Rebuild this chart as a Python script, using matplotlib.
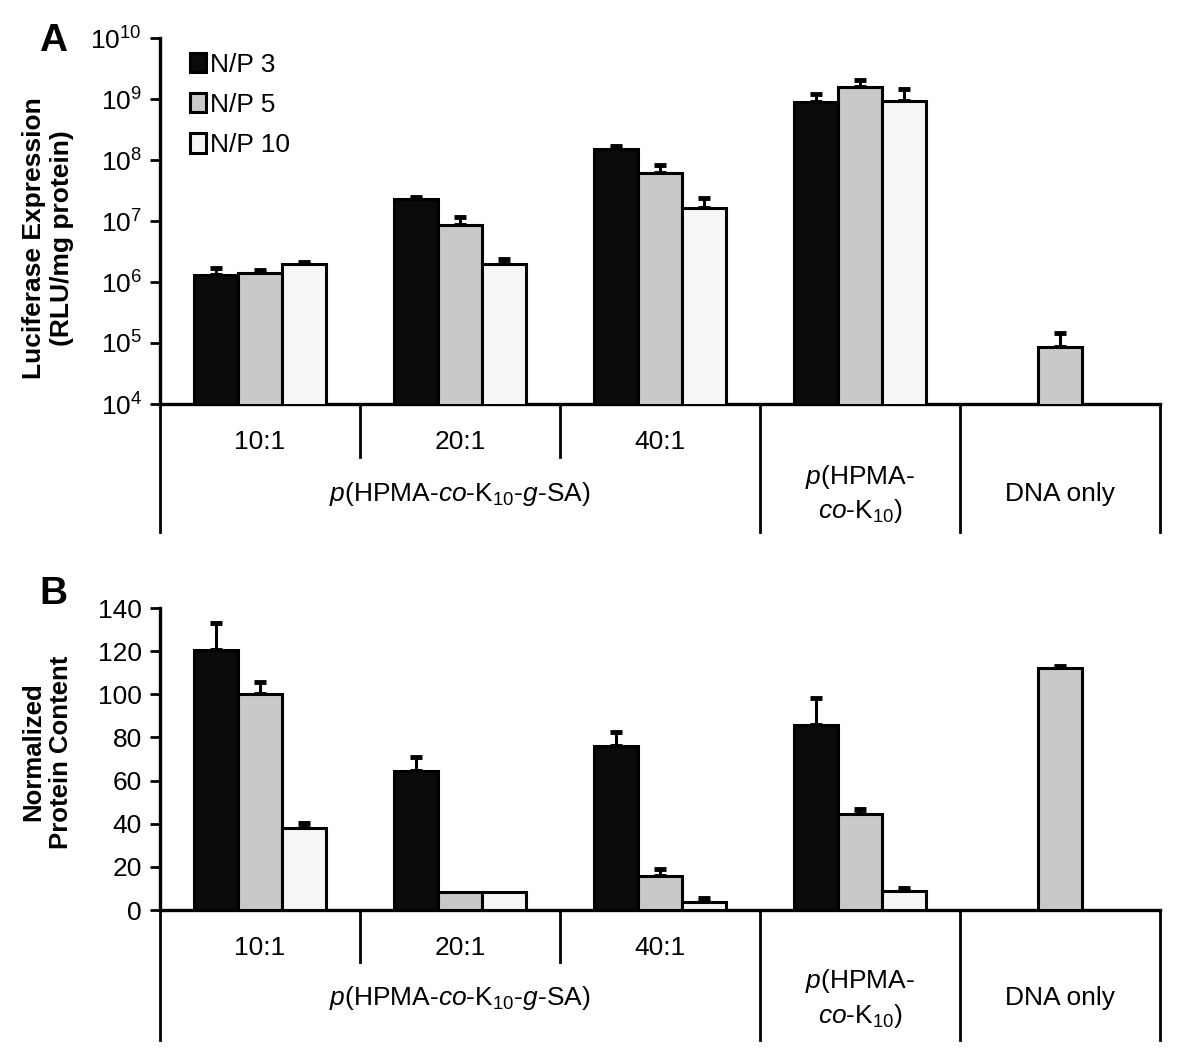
import numpy as np
import matplotlib
matplotlib.use("Agg")
import matplotlib.pyplot as plt
from matplotlib.patches import Patch

plt.rcParams['font.family'] = ['Liberation Sans', 'DejaVu Sans']
plt.rcParams['mathtext.fontset'] = 'custom'
plt.rcParams['mathtext.rm'] = 'Liberation Sans'
plt.rcParams['mathtext.it'] = 'Liberation Sans:italic'
plt.rcParams['mathtext.bf'] = 'Liberation Sans:bold'

# data
series = ["N/P 3", "N/P 5", "N/P 10"]
colors = ["#0a0b0d", "#c9c9c9", "#f5f6f6"]
groups = ["10:1", "20:1", "40:1", "HPMA", "DNA"]

# panel A: luciferase expression (RLU/mg protein), None = no bar
lucA = [
    [1.32e6, 2.3e7, 1.5e8, 8.9e8, None],
    [1.42e6, 8.5e6, 6.2e7, 1.55e9, 8.5e4],
    [1.94e6, 1.94e6, 1.66e7, 9.3e8, None],
]
lucA_err = [
    [0.38e6, 0.16e7, 0.17e8, 3.3e8, None],
    [0.13e6, 3.0e6, 2.1e7, 0.5e9, 6.1e4],
    [0.21e6, 0.46e6, 0.74e7, 5.3e8, None],
]

# panel B: normalized protein content
protB = [
    [120.3, 64.5, 76.2, 85.8, None],
    [100.1, 8.5, 15.9, 44.5, 112.1],
    [38.2, 8.5, 3.6, 8.8, None],
]
protB_err = [
    [12.7, 6.6, 6.1, 12.4, None],
    [5.7, 0, 3.3, 2.2, 1.1],
    [2.3, 0, 2.1, 1.2, None],
]

sub_labels = ["10:1", "20:1", "40:1"]
main_label = r"$\mathit{p}$(HPMA-$\mathit{co}$-K$_{10}$-$\mathit{g}$-SA)"
hpma_label = "$\\mathit{p}$(HPMA-\n$\\mathit{co}$-K$_{10}$)"
dna_label = "DNA only"

W, H = 1200, 1059
fig = plt.figure(figsize=(12, 10.59), dpi=100)
axA = fig.add_axes([160 / W, (H - 404) / H, 1000 / W, 366 / H])
axB = fig.add_axes([160 / W, (H - 910) / H, 1000 / W, 302 / H])

width = 0.22
offsets = [-0.22, 0.0, 0.22]
centers = np.arange(5) + 0.5
FS = 19


def draw_bars(ax, vals, errs):
    for i in range(3):
        xs, ys, es = [], [], []
        for j in range(5):
            if vals[i][j] is None:
                continue
            xs.append(centers[j] + offsets[i])
            ys.append(vals[i][j])
            es.append(errs[i][j])
        ax.bar(xs, ys, width=width, color=colors[i], edgecolor='black',
               linewidth=2.2, zorder=3)
        xs, ys, es = np.array(xs), np.array(ys), np.array(es)
        m = es > 0
        ax.errorbar(xs[m], ys[m], yerr=[np.zeros(m.sum()), es[m]], fmt='none',
                    ecolor='black', elinewidth=2.2, capsize=4.5, capthick=3.5, zorder=2)


def style_axis(ax, inner_end, outer_end, y1, y2):
    ax.set_xlim(0, 5)
    for s in ['top', 'right']:
        ax.spines[s].set_visible(False)
    for s in ['left', 'bottom']:
        ax.spines[s].set_linewidth(2.4)
    ax.set_xticks([])
    ax.tick_params(axis='y', which='major', direction='out', length=7, width=2,
                   labelsize=FS, pad=6)
    ax.tick_params(axis='y', which='minor', length=0)
    tr = ax.get_xaxis_transform()
    for x in [0, 3, 4, 5]:
        ax.plot([x, x], [0, outer_end], color='black', lw=2, transform=tr, clip_on=False)
    for x in [1, 2]:
        ax.plot([x, x], [0, inner_end], color='black', lw=2, transform=tr, clip_on=False)
    for k, lab in enumerate(sub_labels):
        ax.text(k + 0.5, y1, lab, transform=tr, ha='center', va='center', fontsize=FS)
    ax.text(1.5, y2, main_label, transform=tr, ha='center', va='center', fontsize=FS)
    ax.text(3.5, y2, hpma_label, transform=tr, ha='center', va='center', fontsize=FS,
            linespacing=1.3)
    ax.text(4.5, y2, dna_label, transform=tr, ha='center', va='center', fontsize=FS)


# panel A
draw_bars(axA, lucA, lucA_err)
axA.set_yscale('log')
axA.set_ylim(1e4, 1e10)
axA.set_yticks([10.0 ** k for k in range(4, 11)])
style_axis(axA, -0.145, -0.35, -0.104, -0.245)

handles = [Patch(facecolor=c, edgecolor='black', linewidth=2.2) for c in colors]
axA.legend(handles, series, loc='upper left', bbox_to_anchor=(0.03, 0.96),
           frameon=False, fontsize=FS, handlelength=0.6, handleheight=0.75,
           handletextpad=0.15, labelspacing=0.62, borderaxespad=0, borderpad=0)

# panel B
draw_bars(axB, protB, protB_err)
axB.set_ylim(0, 140)
axB.set_yticks(range(0, 141, 20))
style_axis(axB, -0.172, -0.43, -0.126, -0.293)

fig.text(48 / W, 1 - 238 / H, "Luciferase Expression\n(RLU/mg protein)", rotation=90,
         ha='center', va='center', fontsize=19, fontweight='bold', multialignment='center',
         linespacing=1.2)
fig.text(47 / W, 1 - 752 / H, "Normalized\nProtein Content", rotation=90,
         ha='center', va='center', fontsize=18.5, fontweight='bold', multialignment='center',
         linespacing=1.2)
fig.text(53 / W, 1 - 41 / H, "A", ha='center', va='center', fontsize=28, fontweight='bold')
fig.text(53 / W, 1 - 594 / H, "B", ha='center', va='center', fontsize=28, fontweight='bold')

fig.savefig("out.png", dpi=100)
